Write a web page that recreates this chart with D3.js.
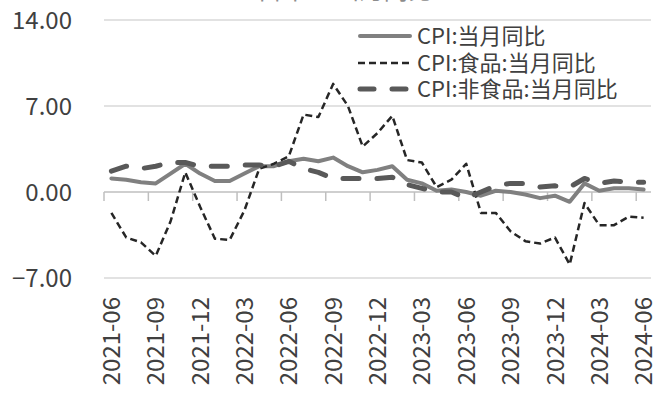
<!DOCTYPE html>
<html><head><meta charset="utf-8">
<script src="https://cdn.jsdelivr.net/npm/d3@7"></script>
<style>body{margin:0;background:#fff}svg{display:block}text{font-family:"Noto Sans CJK SC","Noto Sans",sans-serif}</style>
</head><body>
<svg id="c" width="666" height="402"></svg>
<script>
const months = ["2021-06","2021-07","2021-08","2021-09","2021-10","2021-11","2021-12",
"2022-01","2022-02","2022-03","2022-04","2022-05","2022-06","2022-07","2022-08","2022-09","2022-10","2022-11","2022-12",
"2023-01","2023-02","2023-03","2023-04","2023-05","2023-06","2023-07","2023-08","2023-09","2023-10","2023-11","2023-12",
"2024-01","2024-02","2024-03","2024-04","2024-05","2024-06"];
const cpi = [1.1,1.0,0.8,0.7,1.5,2.3,1.5, 0.9,0.9,1.5,2.1,2.1,2.5,2.7,2.5,2.8,2.1,1.6,1.8, 2.1,1.0,0.7,0.1,0.2,0.0,-0.3,0.1,0.0,-0.2,-0.5,-0.3, -0.8,0.7,0.1,0.3,0.3,0.2];
const food = [-1.7,-3.7,-4.1,-5.2,-2.4,1.6,-1.2, -3.8,-3.9,-1.5,1.9,2.3,2.9,6.3,6.1,8.8,7.0,3.7,4.8, 6.2,2.6,2.4,0.4,1.0,2.3,-1.7,-1.7,-3.2,-4.0,-4.2,-3.7, -5.9,-0.9,-2.7,-2.7,-2.0,-2.1];
const nonfood = [1.7,2.1,1.9,2.1,2.4,2.4,2.1, 2.1,2.1,2.2,2.2,2.1,2.5,1.9,1.6,1.1,1.1,1.1,1.1, 1.2,0.6,0.3,0.0,0.0,-0.5,0.0,0.5,0.7,0.7,0.4,0.5, 0.4,1.1,0.7,0.9,0.8,0.8];
const yTicks = [-7,0,7,14];
const seriesNames = ["CPI:当月同比","CPI:食品:当月同比","CPI:非食品:当月同比"];
const titleText = "中国CPI当月同比";

const svg = d3.select("#c");
const L = 104, R = 651, T = 20, B = 278;
const x = d3.scaleBand().domain(months).range([L, R]);
const y = d3.scaleLinear().domain([-7, 14]).range([B, T]);

svg.append("text").attr("x", 341).attr("y", -1).attr("text-anchor","middle")
  .attr("font-size", 24).attr("fill", "#8c8c8c").text(titleText);

// gridlines
svg.append("g").selectAll("line").data(yTicks.filter(v => v !== 0)).join("line")
  .attr("x1", L).attr("x2", R).attr("y1", d => y(d)).attr("y2", d => y(d))
  .attr("stroke", "#d9d9d9").attr("stroke-width", 1.5);

// y labels
svg.append("g").selectAll("text").data(yTicks).join("text")
  .attr("x", 72).attr("y", d => y(d)).attr("dy", "0.36em").attr("text-anchor", "end")
  .attr("font-size", 24).attr("fill", "#404040").text(d => d3.format(".2f")(d));

// x axis at 0
const tickIdx = months.map((m, i) => i).filter(i => i % 3 === 0);
svg.append("line").attr("x1", L).attr("x2", R).attr("y1", y(0)).attr("y2", y(0))
  .attr("stroke", "#bfbfbf").attr("stroke-width", 1.5);
svg.append("g").selectAll("line").data(tickIdx).join("line")
  .attr("x1", i => x(months[i])).attr("x2", i => x(months[i]))
  .attr("y1", y(0)).attr("y2", y(0) + 9).attr("stroke", "#bfbfbf").attr("stroke-width", 1.5);

// x labels
svg.append("g").selectAll("text").data(tickIdx).join("text")
  .attr("transform", i => `translate(${x(months[i]) + x.bandwidth()/2},297) rotate(-90)`)
  .attr("dy", "0.36em").attr("text-anchor", "end")
  .attr("font-size", 24).attr("fill", "#404040").text(i => months[i]);

const line = d3.line().x((d, i) => x(months[i]) + x.bandwidth()/2).y(d => y(d));
const styles = [
  {data: cpi, color: "#808080", width: 4, dash: null, cap: "round"},
  {data: food, color: "#262626", width: 2.5, dash: "7,4", cap: "butt"},
  {data: nonfood, color: "#595959", width: 5, dash: "16,18", cap: "round"}
];
styles.forEach(s => {
  svg.append("path").datum(s.data).attr("d", line).attr("fill", "none")
    .attr("stroke", s.color).attr("stroke-width", s.width)
    .attr("stroke-dasharray", s.dash).attr("stroke-linecap", s.cap)
    .attr("stroke-linejoin", "round");
});

// legend
const lg = svg.append("g");
const rowsY = [36, 63, 89];
styles.forEach((s, i) => {
  lg.append("line").attr("x1", s.cap === "round" ? 360 : 358).attr("x2", s.cap === "round" ? 410 : 412)
    .attr("y1", rowsY[i]).attr("y2", rowsY[i])
    .attr("stroke", s.color).attr("stroke-width", s.width)
    .attr("stroke-dasharray", i === 2 ? "14,18" : s.dash).attr("stroke-linecap", s.cap);
  lg.append("text").attr("x", 417).attr("y", rowsY[i]).attr("dy", "0.36em")
    .attr("font-size", 22).attr("fill", "#404040").text(seriesNames[i]);
});
</script>
</body></html>
